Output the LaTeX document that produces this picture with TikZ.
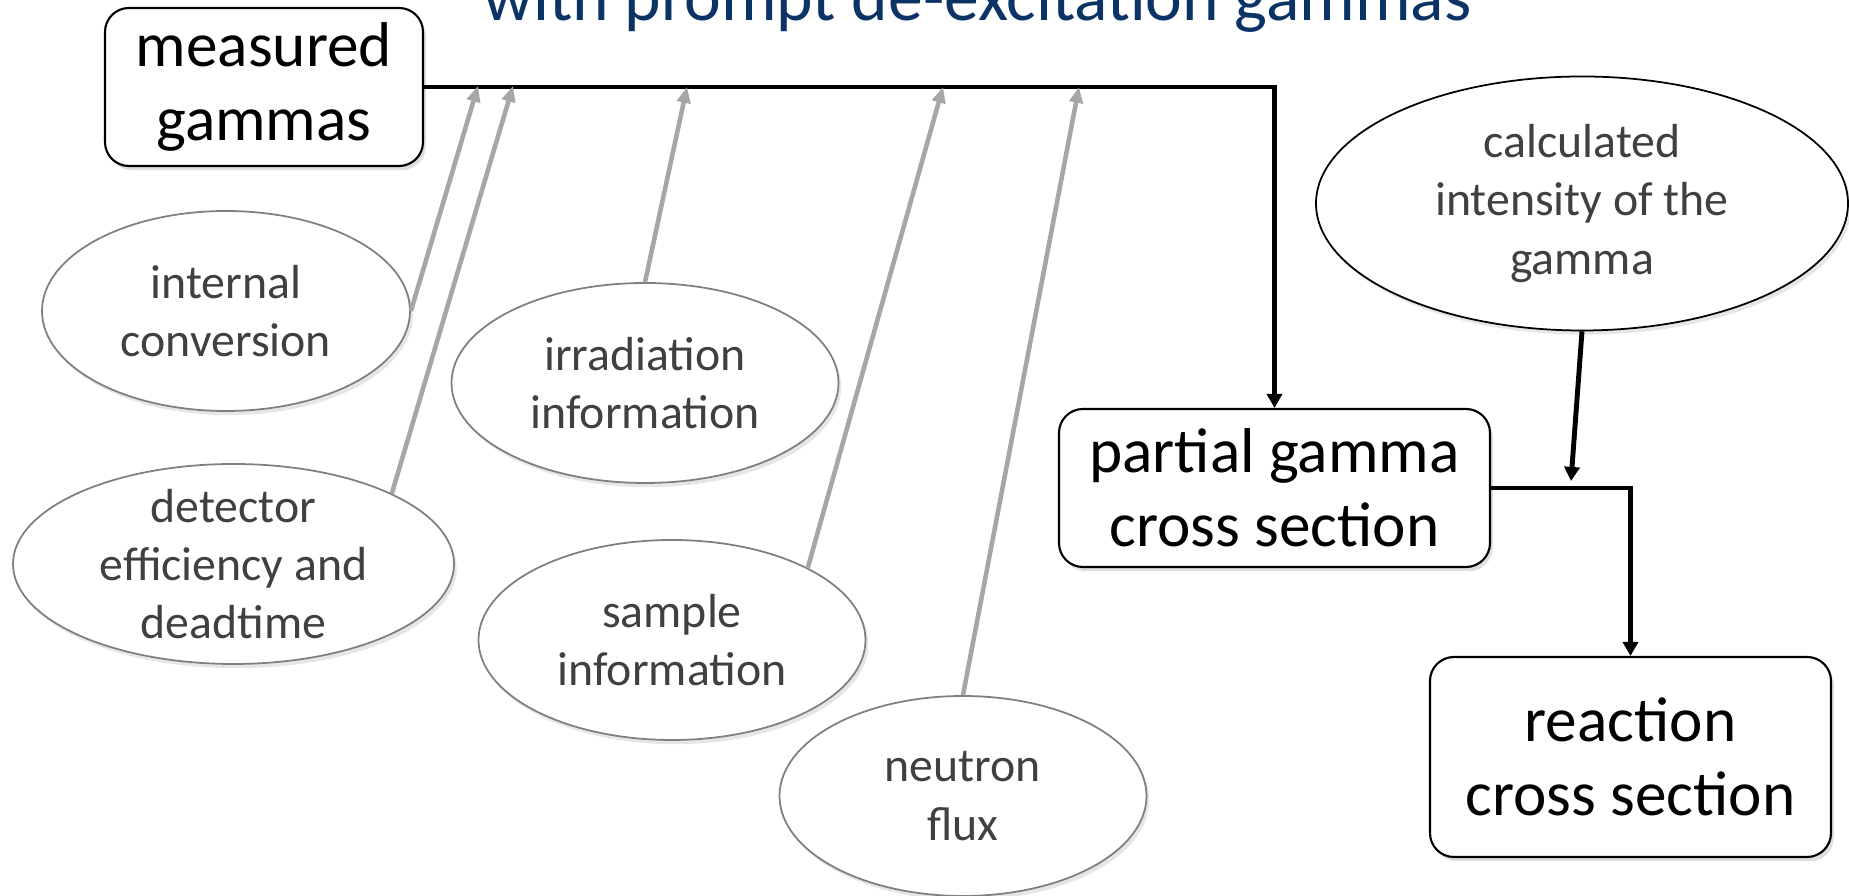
\documentclass[tikz,border=0pt]{standalone}
\usepackage{fontspec}
\setmainfont{Carlito}
\usetikzlibrary{shapes.geometric,arrows.meta,shadows}
\definecolor{titleblue}{HTML}{0B3366}
\definecolor{ovalgray}{HTML}{7F7F7F}
\definecolor{ovaltext}{HTML}{404040}
\definecolor{feedgray}{HTML}{A6A6A6}

\begin{document}
\begin{tikzpicture}[
  resultbox/.style={draw=black, line width=0.6pt, rounded corners=6.8pt,
    fill=white, align=center, font=\fontsize{18}{21}\selectfont,
    drop shadow={shadow xshift=0.8pt, shadow yshift=-1.2pt, opacity=0.25}},
  inputoval/.style={ellipse, draw=ovalgray, line width=0.5pt, fill=white,
    inner sep=-6pt, align=center, text=ovaltext, minimum height=2cm,
    font=\fontsize{13.6}{16.6}\selectfont,
    drop shadow={shadow xshift=0.8pt, shadow yshift=-1.2pt, opacity=0.2}},
  mainarrow/.style={line width=1.4pt, -{Triangle[length=4pt,width=4.3pt]}},
  feedarrow/.style={feedgray, line width=1.3pt, -{Triangle[length=4.5pt,width=3.8pt]}}
]

\useasboundingbox (0,0) rectangle (18.49,-8.96);

% Titre (coupe en haut)
\node[anchor=base west, text=titleblue, font=\fontsize{19.8}{23}\selectfont]
(title) at (4.71,-0.21)
{with prompt de-excitation gammas};

% Boites
\node[resultbox, minimum width=3.18cm, minimum height=1.58cm]
(meas) at (2.64,-0.87)
{measured\\gammas};

\node[resultbox, minimum width=4.31cm, minimum height=1.58cm]
(part) at (12.745,-4.88)
{partial gamma\\cross section};

\node[resultbox, minimum width=4.01cm, minimum height=2.00cm]
(react) at (16.305,-7.57)
{reaction\\cross section};

% Ellipses
\node[inputoval, minimum width=3.68cm]
(ic) at (2.26,-3.11)
{internal\\conversion};

\node[inputoval, minimum width=4.41cm]
(det) at (2.335,-5.64)
{detector\\efficiency and\\deadtime};

\node[inputoval, minimum width=3.87cm]
(irr) at (6.45,-3.83)
{irradiation\\information};

\node[inputoval, minimum width=3.87cm]
(smp) at (6.72,-6.40)
{sample\\information};

\node[inputoval, minimum width=3.67cm]
(nf) at (9.63,-7.96)
{neutron\\flux};

\node[inputoval, draw=black, minimum width=5.32cm, minimum height=2.54cm]
(calc) at (15.82,-2.035)
{calculated\\intensity of the\\gamma};

% Points sur la ligne
\coordinate (t1) at (4.78,-0.86);
\coordinate (t2) at (5.13,-0.86);
\coordinate (t3) at (6.87,-0.87);
\coordinate (t4) at (9.43,-0.87);
\coordinate (t5) at (10.79,-0.87);
\coordinate (t6) at (15.71,-4.81);

% Fleches noires
\draw[mainarrow]
(meas.east)
-|
(part.north);

\draw[mainarrow]
(part.east)
-|
(react.north);

\draw[mainarrow]
(calc.south)
--
(t6);

% Fleches grises
\draw[feedarrow] (ic.east) -- (t1);
\draw[feedarrow] (det.24) -- (t2);
\draw[feedarrow] (irr.north) -- (t3);
\draw[feedarrow] (smp.28) -- (t4);
\draw[feedarrow] (nf.north) -- (t5);

\end{tikzpicture}
\end{document}
